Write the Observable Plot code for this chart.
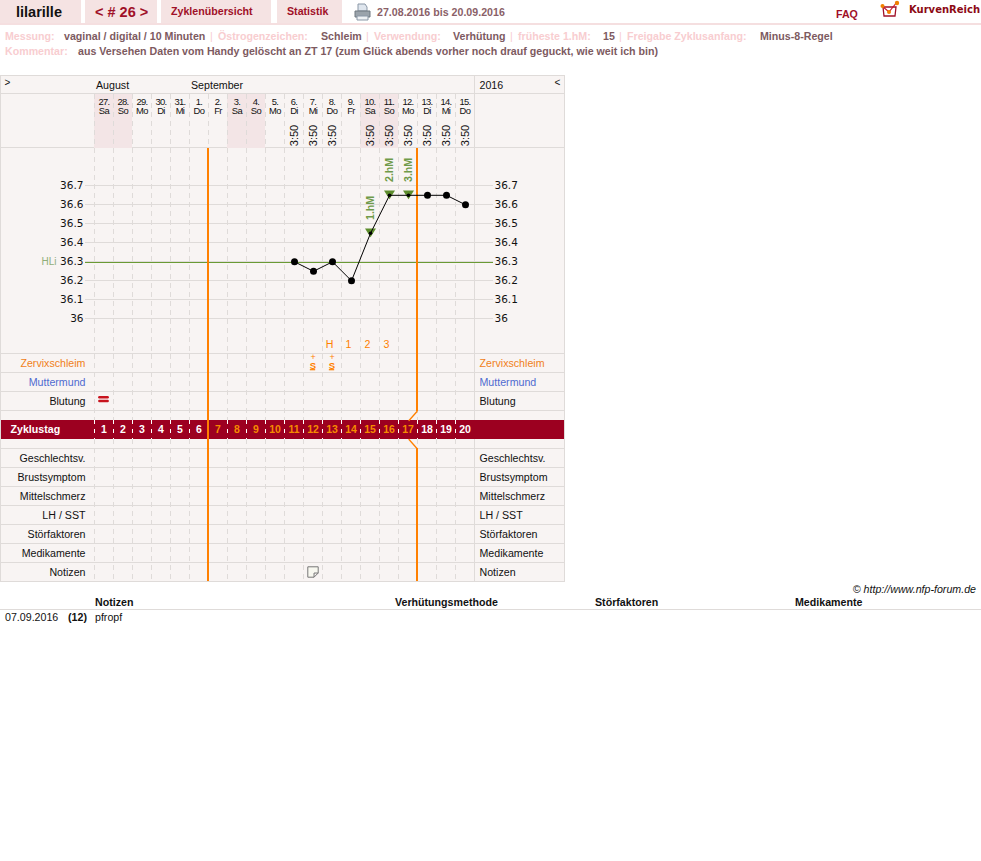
<!DOCTYPE html>
<html lang="de"><head><meta charset="utf-8">
<script src="https://cdn.jsdelivr.net/npm/d3@7"></script>
<script src="https://cdn.jsdelivr.net/npm/@observablehq/plot@0.6"></script>
<style>
html,body{margin:0;padding:0;background:#fff;font-family:"Liberation Sans",Arial,sans-serif;}
#page{position:relative;width:981px;height:861px;overflow:hidden;}
.a{position:absolute;white-space:nowrap;}
.tab{position:absolute;top:0;height:23px;background:#f5e3e3;}
.ln{position:absolute;left:1px;width:563px;height:1px;background:#dfdbd9;}
.m{font-size:10.65px;font-weight:bold;line-height:13px;}
.t{font-size:10.65px;color:#111;}
.l{color:#f8cdd0;}.v{color:#7d5a5f;}
.plot{position:absolute;left:0;overflow:visible;background:transparent;}
g[font-family*="Narrow"] text{letter-spacing:-0.6px;}
</style></head><body><div id="page"></div>
<script>
// ---- data ----
const dayNums   = ["27.","28.","29.","30.","31.","1.","2.","3.","4.","5.","6.","7.","8.","9.","10.","11.","12.","13.","14.","15."];
const weekdays  = ["Sa","So","Mo","Di","Mi","Do","Fr","Sa","So","Mo","Di","Mi","Do","Fr","Sa","So","Mo","Di","Mi","Do"];
const sleepTimes= [null,null,null,null,null,null,null,null,null,null,"3:50","3:50","3:50",null,"3:50","3:50","3:50","3:50","3:50","3:50"];
const temps     = [null,null,null,null,null,null,null,null,null,null,36.3,36.25,36.3,36.2,36.45,36.65,36.65,36.65,36.65,36.6];
const highTemps = [["1.hM",14],["2.hM",15],["3.hM",16]];
const peakMarks = [["H",12],["1",13],["2",14],["3",15]];
const mucus     = [11,12];
const bleeding  = [0];
const noteDays  = [11];
const cycleDays = d3.range(1,21);
const fertileStart = 7, fertileEnd = 17;
const coverLine = 36.3;
const tempTicks = [36,36.1,36.2,36.3,36.4,36.5,36.6,36.7];
const months    = [["August",0],["September",5]];
const upperRows = ["Zervixschleim","Muttermund","Blutung"];
const lowerRows = ["Geschlechtsv.","Brustsymptom","Mittelschmerz","LH / SST","Störfaktoren","Medikamente","Notizen"];
const rowColors = {Zervixschleim:"#f08020",Muttermund:"#4f6bd0"};

// ---- shared scales ----
const cols = d3.range(dayNums.length);
const X0 = 103.5, CW = 19;                // pixel of column 0, width of a column
const u = p => (p - X0) / CW;             // page pixel -> column units (for chart furniture only)
const edges = d3.range(21).map(i => i - 0.5);
const grid = "#dfdbd9", orange = "#ff8000", green = "#6a9a34";
const font = '"Liberation Sans",Arial,sans-serif', narrow = '"Liberation Sans Narrow","Liberation Sans",sans-serif';
const dash = {stroke:grid, strokeDasharray:"5,4"};
const page = document.getElementById("page");
function el(html){const t=document.createElement("div");t.innerHTML=html;while(t.firstChild)page.appendChild(t.firstChild);}
function place(svg,top){svg.classList.add("plot");svg.style.top=top+"px";svg.style.left="0px";svg.style.background="transparent";page.appendChild(svg);}
const base = {width:565,marginLeft:0,marginRight:0,marginTop:0,marginBottom:0,style:{background:"transparent",fontFamily:font,overflow:"visible"}};
const xFull = {type:"linear",domain:[u(0),u(565)],range:[0,565],axis:null};

// ---- page furniture ----
el(`
<div class="tab" style="left:0;width:81px"></div><div class="tab" style="left:85px;width:72px"></div>
<div class="tab" style="left:161px;width:110px"></div><div class="tab" style="left:277px;width:65px"></div>
<div class="a" style="left:0;right:0;top:23px;height:2px;background:#f5dfe0"></div>
<div class="a" style="left:16px;top:4px;font-size:14.5px;font-weight:bold;color:#111">lilarille</div>
<div class="a" style="left:95px;top:4px;font-size:14.5px;font-weight:bold;color:#a01028">&lt; # 26 &gt;</div>
<div class="a m" style="left:171px;top:5px;color:#a01028">Zyklenübersicht</div>
<div class="a m" style="left:287px;top:5px;color:#a01028">Statistik</div>
<svg class="a" style="left:354px;top:3px" width="17" height="18" viewBox="0 0 17 18"><path d="M4 1h7l2 3v4H4z" fill="#dfe6ee" stroke="#8a97a6"/><path d="M1 8h15v6H1z" fill="#9aa3ab" stroke="#6f7880"/><path d="M3 13h11v4H3z" fill="#eef1f4" stroke="#8a97a6"/></svg>
<div class="a m" style="left:377px;top:6px;color:#8a5f68">27.08.2016 bis 20.09.2016</div>
<div class="a m" style="left:836px;top:8px;color:#a01028">FAQ</div>
<svg class="a" style="left:880px;top:0" width="20" height="19" viewBox="0 0 20 19"><path d="M3 7l1 9h11l1-9z" fill="#fff" stroke="#a01028" stroke-width="1.3"/><path d="M2 6l7 6 8-10" fill="none" stroke="#c8142c" stroke-width="1.2"/><circle cx="2.5" cy="6" r="2" fill="#f08000"/><circle cx="9" cy="12" r="2" fill="#f08000"/><circle cx="17" cy="3" r="2.2" fill="#f08000"/></svg>
<div class="a" style="left:909px;top:4px;font-family:'DejaVu Sans';font-size:10px;font-weight:bold;color:#8c0a14">KurvenReich</div>
<div class="a m l" style="left:5px;top:30px">Messung:</div><div class="a m v" style="left:64px;top:30px">vaginal / digital / 10 Minuten</div>
<div class="a m l" style="left:210px;top:30px;font-weight:normal">|</div>
<div class="a m l" style="left:218px;top:30px">Östrogenzeichen:</div><div class="a m v" style="left:321px;top:30px">Schleim</div>
<div class="a m l" style="left:366px;top:30px;font-weight:normal">|</div>
<div class="a m l" style="left:374px;top:30px">Verwendung:</div><div class="a m v" style="left:453px;top:30px">Verhütung</div>
<div class="a m l" style="left:510px;top:30px;font-weight:normal">|</div>
<div class="a m l" style="left:518px;top:30px">früheste 1.hM:</div><div class="a m v" style="left:603px;top:30px">15</div>
<div class="a m l" style="left:619px;top:30px;font-weight:normal">|</div>
<div class="a m l" style="left:627px;top:30px">Freigabe Zyklusanfang:</div><div class="a m v" style="left:760px;top:30px">Minus-8-Regel</div>
<div class="a m l" style="left:5px;top:45px">Kommentar:</div>
<div class="a m v" style="left:78px;top:45px">aus Versehen Daten vom Handy gelöscht an ZT 17 (zum Glück abends vorher noch drauf geguckt, wie weit ich bin)</div>
<div class="a" style="left:0;top:75px;width:565px;height:507px;box-sizing:border-box;border:1px solid ${grid};background:#f8f4f3"></div>
<div class="a" style="left:474px;top:75px;width:1px;height:507px;background:${grid}"></div>
`);
[93,147,353,372,391,410,448,467,486,505,524,543,562].forEach(t=>el(`<div class="ln" style="top:${t}px"></div>`));
el(`
<div class="a t" style="right:5px;top:583px;font-style:italic">© http://www.nfp-forum.de</div>
<div class="a t" style="left:95px;top:596px;font-weight:bold">Notizen</div>
<div class="a t" style="left:395px;top:596px;font-weight:bold">Verhütungsmethode</div>
<div class="a t" style="left:595px;top:596px;font-weight:bold">Störfaktoren</div>
<div class="a t" style="left:795px;top:596px;font-weight:bold">Medikamente</div>
<div class="a" style="left:0;right:0;top:609px;height:1px;background:#dfdbd9"></div>
<div class="a t" style="left:5px;top:611px">07.09.2016</div>
<div class="a t" style="left:68px;top:611px;font-weight:bold">(12)</div>
<div class="a t" style="left:95px;top:611px">pfropf</div>
`);

// ---- header plot (months, dates) ----
const isWeekend = i => weekdays[i]==="Sa"||weekdays[i]==="So";
place(Plot.plot({...base,height:73,marginTop:19,x:xFull,y:{axis:null},marks:[
  Plot.rect(cols.filter(isWeekend),{x1:i=>i-0.5,x2:i=>i+0.5,fill:"#f3e5e6"}),
  Plot.ruleX(edges.slice(0,-1),dash),
  Plot.text(months,{x:d=>d[1]-0.42,text:d=>d[0],frameAnchor:"top",dy:-13.5,textAnchor:"start",fontSize:10.65,fill:"#111",fontFamily:font}),
  Plot.text(["2016"],{x:u(479),frameAnchor:"top",dy:-13.5,textAnchor:"start",fontSize:10.65,fill:"#111",fontFamily:font}),
  Plot.text([">"],{x:u(4),frameAnchor:"top",dy:-16,textAnchor:"start",fontSize:10,fill:"#111",fontFamily:font}),
  Plot.text(["<"],{x:u(554),frameAnchor:"top",dy:-16,textAnchor:"start",fontSize:10,fill:"#111",fontFamily:font}),
  Plot.text(cols,{x:i=>i,text:i=>dayNums[i],frameAnchor:"top",dy:3.5,fontSize:9.4,fill:"#111",fontFamily:narrow}),
  Plot.text(cols,{x:i=>i,text:i=>weekdays[i],frameAnchor:"top",dy:13,fontSize:9.4,fill:"#111",fontFamily:narrow}),
  Plot.text(cols.filter(i=>sleepTimes[i]),{x:i=>i,text:i=>sleepTimes[i],frameAnchor:"top",lineAnchor:"middle",dy:41,rotate:-90,fontSize:11,fill:"#111",fontFamily:font})
]}),75);

// ---- temperature plot ----
const T0 = 36.7, TPX = 190, top0 = 148, H = 206;            // 0.1 deg = 19 px
const tempAt = p => T0 - (p - 185) / TPX;
const pts = cols.filter(i=>temps[i]!=null).map(i=>({i,t:temps[i]}));
const hmIdx = new Set(highTemps.map(d=>d[1]));
const triangle = {draw(c,s){const r=Math.sqrt(s/Math.PI);c.moveTo(-r*1.1,-r*1.0);c.lineTo(r*1.1,-r*1.0);c.lineTo(0,r*0.75);c.closePath();}};
const fmt = d=>d===36?"36":d.toFixed(1);
const tickFont = '"DejaVu Sans",sans-serif';
place(Plot.plot({...base,height:H,marginLeft:85,marginRight:72,
  x:{type:"linear",domain:[u(85),u(493)],range:[85,493],axis:null},
  y:{type:"linear",domain:[tempAt(top0+H),tempAt(top0)],range:[H,0],axis:null},
  marks:[
    Plot.ruleX(edges,dash),
    Plot.ruleY(tempTicks,{stroke:grid}),
    Plot.axisY({anchor:"left",ticks:tempTicks,tickSize:0,tickPadding:2,tickFormat:fmt,fontSize:10.5,fontFamily:tickFont,fill:"#111",label:null}),
    Plot.axisY({anchor:"right",ticks:tempTicks,tickSize:0,tickPadding:1,tickFormat:fmt,fontSize:10.5,fontFamily:tickFont,fill:"#111",label:null}),
    Plot.ruleY([coverLine],{stroke:green,strokeWidth:1,dy:1}),
    Plot.text(["HLi"],{x:u(56),y:coverLine,textAnchor:"end",fontSize:10,fill:"#8fae78",fontFamily:font}),
    Plot.ruleX([fertileStart-1.5,fertileEnd-0.5],{stroke:orange,strokeWidth:2,dx:-0.5}),
    Plot.dot(highTemps,{x:d=>d[1],y:d=>temps[d[1]],symbol:triangle,r:5,dx:0.5,dy:0.5,fill:"#5c8c2c",stroke:"none"}),
    Plot.line(pts,{x:"i",y:"t",stroke:"#000",strokeWidth:1,curve:"linear",dx:0.5,dy:0.3}),
    Plot.dot(pts.filter(d=>!hmIdx.has(d.i)),{x:"i",y:"t",r:3.5,dx:0.5,dy:0.3,fill:"#000",stroke:"none"}),
    Plot.dot(pts.filter(d=>hmIdx.has(d.i)),{x:"i",y:"t",r:1.8,dx:0.5,dy:0.3,fill:"#000",stroke:"none"}),
    Plot.text(highTemps,{x:d=>d[1],y:d=>temps[d[1]],text:d=>d[0],rotate:-90,textAnchor:"start",dx:0.8,dy:-13,fontSize:10.65,fontWeight:"bold",fill:"#6f9a4a",fontFamily:font}),
    Plot.text(peakMarks,{x:d=>d[1],text:d=>d[0],frameAnchor:"bottom",dx:-2.5,dy:-10,lineAnchor:"middle",fontSize:10.65,fill:orange,fontFamily:font})
  ]}),top0);

// ---- lower rows ----
const GAP = 9/19;                        // spacer height, in rows
const rowY = {};
upperRows.forEach((r,k)=>rowY[r]=k);
rowY.Zyklustag = 3+GAP;
lowerRows.forEach((r,k)=>rowY[r]=4+2*GAP+k);
const totalRows = 10+2*GAP+1;
const mid = r => rowY[r]+0.5;
const band = "#9c0020";
const [yA,yB] = [rowY.Zyklustag-GAP, rowY.Zyklustag];    // gap above the band
const [yC,yD] = [rowY.Zyklustag+1, rowY.Zyklustag+1+GAP]; // gap below the band
const e2 = fertileEnd-0.5, lean = e2-0.42;
const labelMarks = (rows,dy) => [
  Plot.text(rows,{x:u(85),y:mid,dy,text:d=>d,textAnchor:"end",fontSize:10.65,fontFamily:font,fill:d=>rowColors[d]||"#111"}),
  Plot.text(rows,{x:u(479),y:mid,dy,text:d=>d,textAnchor:"start",fontSize:10.65,fontFamily:font,fill:d=>rowColors[d]||"#111"})
];
place(Plot.plot({...base,height:227,x:xFull,
  y:{type:"linear",domain:[totalRows,0],range:[227,0],axis:null},
  marks:[
    Plot.rect(["Zyklustag"],{x1:u(1),x2:u(564),y1:yB,y2:yC,fill:band,inset:0}),
    Plot.ruleX(edges.slice(0,-1),{...dash,y1:0,y2:yB}),
    Plot.ruleX(edges.slice(0,-1),{...dash,y1:yC,y2:totalRows}),
    Plot.ruleX(edges.slice(0,-1),{stroke:"#fff",strokeDasharray:"4,5",y1:yB,y2:yC}),
    Plot.ruleX([fertileStart-1.5],{stroke:orange,strokeWidth:2,dx:-0.5,y1:0,y2:totalRows}),
    Plot.ruleX([fertileEnd-0.5],{stroke:orange,strokeWidth:2,dx:-0.5,y1:0,y2:yA}),
    Plot.ruleX([fertileEnd-0.5],{stroke:orange,strokeWidth:2,dx:-0.5,y1:yD,y2:totalRows}),
    Plot.line([[e2,yA],[lean,yB]],{x:"0",y:"1",stroke:orange,strokeWidth:1.3,dx:-0.5}),
    Plot.line([[lean,yC],[e2,yD]],{x:"0",y:"1",stroke:orange,strokeWidth:1.3,dx:-0.5}),
    ...labelMarks(upperRows,-0.5),
    ...labelMarks(lowerRows,0.4),
    Plot.text(["Zyklustag"],{x:u(10),y:mid,text:d=>d,textAnchor:"start",fontSize:10.65,fontWeight:"bold",fill:"#fff",fontFamily:font}),
    Plot.text(cycleDays,{x:d=>d-1,y:()=>mid("Zyklustag"),text:d=>String(d),fontSize:10.5,fontWeight:"bold",fontFamily:font,
      fill:d=>d>=fertileStart&&d<=fertileEnd?"#f58a00":"#fff"}),
    Plot.text(mucus,{x:d=>d,y:()=>rowY.Zervixschleim+0.13,text:()=>"+",fontSize:9,fill:orange,fontFamily:font}),
    Plot.text(mucus,{x:d=>d,y:()=>rowY.Zervixschleim+0.6,text:()=>"S",fontSize:9.5,fontWeight:"bold",fill:orange,fontFamily:font}),
    Plot.ruleY(mucus,{y:()=>rowY.Zervixschleim+0.8,x1:d=>d-0.14,x2:d=>d+0.14,stroke:orange,strokeWidth:1.2}),
    Plot.ruleY(bleeding,{y:()=>mid("Blutung")-0.25,x1:d=>d-0.22,x2:d=>d+0.22,stroke:"#c8141e",strokeWidth:2.4,strokeLinecap:"round"}),
    Plot.ruleY(bleeding,{y:()=>mid("Blutung")-0.05,x1:d=>d-0.22,x2:d=>d+0.22,stroke:"#c8141e",strokeWidth:2.4,strokeLinecap:"round"}),
    Plot.dot(noteDays,{x:d=>d,y:()=>mid("Notizen"),r:5.2,stroke:"#777",fill:"#f8f8f0",strokeWidth:1,
      symbol:{draw(c,s){const r=Math.sqrt(s/Math.PI);c.moveTo(-r,-r);c.lineTo(r,-r);c.lineTo(r,r*0.2);c.lineTo(r*0.2,r);c.lineTo(-r,r);c.closePath();c.moveTo(r,r*0.2);c.lineTo(r*0.2,r*0.2);c.lineTo(r*0.2,r);}}})
  ]}),354);
</script></body></html>
